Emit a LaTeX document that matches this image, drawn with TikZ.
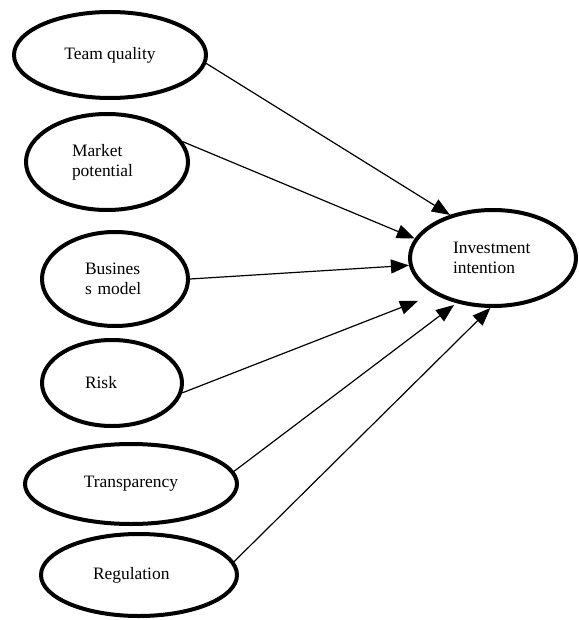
\documentclass[tikz,border=0pt]{standalone}
\usepackage{fontspec}
\setmainfont{Liberation Serif}
\usetikzlibrary{shapes.geometric,arrows.meta}

\begin{document}
\begin{tikzpicture}
[
	x=1bp,y=-1bp,
	factor/.style={ellipse,draw,line width=4bp,inner sep=0pt,font=\fontsize{17.5}{20}\selectfont},
	path/.style={-{Triangle[length=18bp,width=14bp]},line width=1.2bp}
]

	\useasboundingbox (0,0) rectangle (579,620);

	% factors
	\node[factor,minimum width=192bp,minimum height=86bp,align=center] (team) at (110,55) {Team quality};
	\node[factor,minimum width=162bp,minimum height=96bp,text width=70bp,align=left] (market) at (107,162) {Market\\potential};
	\node[factor,minimum width=146bp,minimum height=94bp,text width=60bp,align=left] (business) at (115,279) {Busines\\s model};
	\node[factor,minimum width=140bp,minimum height=86bp,text width=54bp,align=left] (risk) at (112,383) {Risk};
	\node[factor,minimum width=212bp,minimum height=80bp,align=center] (transp) at (131,484) {Transparency};
	\node[factor,minimum width=196bp,minimum height=82bp,text width=92bp,align=left] (reg) at (139,575) {Regulation};

	% outcome
	\node[factor,minimum width=166bp,minimum height=96bp,text width=80bp,align=left] (intent) at (493,258) {Investment\\intention};

	% paths
	\draw[path] (team.-5) -- (intent.135);
	\draw[path] (market.15) -- (intent.166);
	\draw[path] (business.east) -- (intent.185);
	\draw[path,shorten >=18bp] (risk.-8) -- (intent.212);
	\draw[path,shorten >=3bp] (transp.7) -- (intent.231);
	\draw[path] (reg.8) -- (intent.267);

\end{tikzpicture}
\end{document}
